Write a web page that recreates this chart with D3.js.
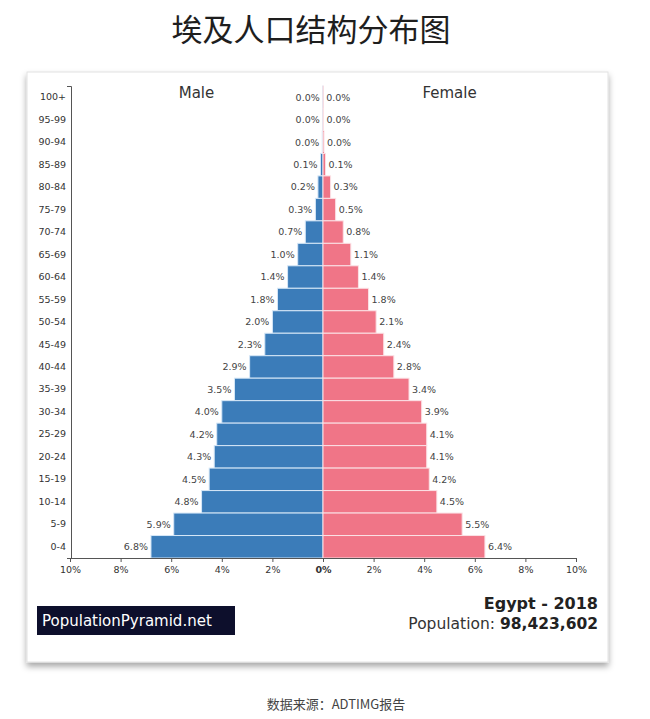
<!DOCTYPE html>
<html>
<head>
<meta charset="utf-8">
<script src="https://cdn.jsdelivr.net/npm/d3@7"></script>
<style>
  body { margin: 0; background: #fff; }
  svg { display: block; }
</style>
</head>
<body>
<div id="chart"></div>
<script>
// age groups, top to bottom
var ageGroups = ["100+", "95-99", "90-94", "85-89", "80-84", "75-79", "70-74", "65-69",
                 "60-64", "55-59", "50-54", "45-49", "40-44", "35-39", "30-34", "25-29",
                 "20-24", "15-19", "10-14", "5-9", "0-4"];
// percent of total population
var maleValues   = [0.01, 0.01, 0.03, 0.1, 0.2, 0.3, 0.7, 1.0, 1.4, 1.8, 2.0, 2.3, 2.9, 3.5, 4.0, 4.2, 4.3, 4.5, 4.8, 5.9, 6.8];
var femaleValues = [0.01, 0.02, 0.04, 0.1, 0.3, 0.5, 0.8, 1.1, 1.4, 1.8, 2.1, 2.4, 2.8, 3.4, 3.9, 4.1, 4.1, 4.2, 4.5, 5.5, 6.4];
var xTicks = [-10, -8, -6, -4, -2, 0, 2, 4, 6, 8, 10];

var width = 650, height = 719,
    margin = {top: 86, right: 74, bottom: 161, left: 70},
    font = "'DejaVu Sans', sans-serif",
    cjk = "'Noto Sans CJK SC', sans-serif";

var svg = d3.select("#chart").append("svg")
    .attr("width", width)
    .attr("height", height);

// title
svg.append("text")
    .attr("x", 311).attr("y", 41)
    .attr("text-anchor", "middle")
    .style("font-family", cjk)
    .style("font-size", "31px")
    .style("fill", "#1e1e1e")
    .text("埃及人口结构分布图");

// card with shadow
var defs = svg.append("defs");
var blur = defs.append("filter").attr("id", "shadow")
    .attr("x", "-5%").attr("y", "-5%").attr("width", "110%").attr("height", "115%");
blur.append("feDropShadow")
    .attr("dx", 0).attr("dy", 4).attr("stdDeviation", 3)
    .attr("flood-color", "#000").attr("flood-opacity", 0.35);

svg.append("rect")
    .attr("x", 27).attr("y", 72)
    .attr("width", 581).attr("height", 590)
    .style("fill", "#fff")
    .style("stroke", "#e2e2e2")
    .attr("filter", "url(#shadow)");

var x = d3.scaleLinear()
    .domain([-10, 10])
    .range([margin.left, width - margin.right]);

var y = d3.scaleBand()
    .domain(ageGroups)
    .range([margin.top, height - margin.bottom])
    .paddingInner(0);

var rows = ageGroups.map(function(a, i) {
    return {age: a, male: maleValues[i], female: femaleValues[i]};
});

var g = svg.append("g").attr("class", "chartGroup");

// male bars
g.selectAll("rect.male")
    .data(rows)
  .enter().append("rect")
    .attr("class", "male")
    .attr("x", function(d) { return x(-d.male); })
    .attr("y", function(d) { return y(d.age); })
    .attr("width", function(d) { return x(0) - x(-d.male); })
    .attr("height", y.bandwidth())
    .style("fill", "#3b7cb9")
    .style("stroke", "#d6e7f7")
    .style("stroke-width", 1);

// female bars
g.selectAll("rect.female")
    .data(rows)
  .enter().append("rect")
    .attr("class", "female")
    .attr("x", x(0))
    .attr("y", function(d) { return y(d.age); })
    .attr("width", function(d) { return x(d.female) - x(0); })
    .attr("height", y.bandwidth())
    .style("fill", "#f07587")
    .style("stroke", "#fbe1e5")
    .style("stroke-width", 1);

var fmt = d3.format(".1f");

g.selectAll("text.maleLabel")
    .data(rows)
  .enter().append("text")
    .attr("class", "maleLabel")
    .attr("x", function(d) { return x(-d.male) - 3; })
    .attr("y", function(d) { return y(d.age) + y.bandwidth() / 2; })
    .attr("dy", "0.35em")
    .attr("text-anchor", "end")
    .style("font-family", font)
    .style("font-size", "9.5px")
    .style("fill", "#444")
    .text(function(d) { return fmt(d.male) + "%"; });

g.selectAll("text.femaleLabel")
    .data(rows)
  .enter().append("text")
    .attr("class", "femaleLabel")
    .attr("x", function(d) { return x(d.female) + 3; })
    .attr("y", function(d) { return y(d.age) + y.bandwidth() / 2; })
    .attr("dy", "0.35em")
    .style("font-family", font)
    .style("font-size", "9.5px")
    .style("fill", "#444")
    .text(function(d) { return fmt(d.female) + "%"; });

// axes
var yAxis = g.append("g")
    .attr("transform", "translate(" + (margin.left + 1) + ",0)")
    .call(d3.axisLeft(y).tickSizeInner(0).tickSizeOuter(4).tickPadding(5));

var xAxis = g.append("g")
    .attr("transform", "translate(0," + (height - margin.bottom) + ")")
    .call(d3.axisBottom(x).tickValues(xTicks).tickSize(4).tickPadding(4)
        .tickFormat(function(d) { return Math.abs(d) + "%"; }));

[yAxis, xAxis].forEach(function(a) {
    a.select(".domain").style("stroke", "#555");
    a.selectAll(".tick line").style("stroke", "#555");
    a.selectAll("text")
        .style("font-family", font)
        .style("font-size", "9.5px")
        .style("fill", "#333");
});
xAxis.selectAll(".tick text")
    .style("font-weight", function(d) { return d === 0 ? "bold" : "normal"; });

// side headers
g.append("text")
    .attr("x", x(-5)).attr("y", 98)
    .attr("text-anchor", "middle")
    .style("font-family", font).style("font-size", "15px").style("fill", "#333")
    .text("Male");
g.append("text")
    .attr("x", x(5)).attr("y", 98)
    .attr("text-anchor", "middle")
    .style("font-family", font).style("font-size", "15px").style("fill", "#333")
    .text("Female");

// brand box
svg.append("rect")
    .attr("x", 37).attr("y", 606)
    .attr("width", 198).attr("height", 29)
    .style("fill", "#0d0f2c");
svg.append("text")
    .attr("x", 42).attr("y", 626)
    .style("font-family", font).style("font-size", "15px").style("fill", "#fff")
    .text("PopulationPyramid.net");

// country / population
svg.append("text")
    .attr("x", 598).attr("y", 609)
    .attr("text-anchor", "end")
    .style("font-family", font).style("font-size", "16px")
    .style("font-weight", "bold").style("fill", "#222")
    .text("Egypt - 2018");
var pop = svg.append("text")
    .attr("x", 598).attr("y", 629)
    .attr("text-anchor", "end")
    .style("font-family", font).style("font-size", "15.5px").style("fill", "#333");
pop.append("tspan").text("Population: ");
pop.append("tspan").style("font-weight", "bold").style("fill", "#222").text("98,423,602");

// source note
svg.append("text")
    .attr("x", 336).attr("y", 709)
    .attr("text-anchor", "middle")
    .style("font-family", cjk).style("font-size", "13px").style("fill", "#444")
    .text("数据来源：ADTIMG报告");
</script>
</body>
</html>
